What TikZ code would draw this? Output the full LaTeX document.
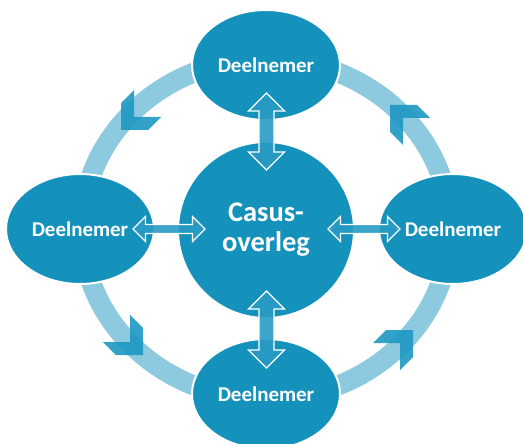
\documentclass[tikz,border=0pt]{standalone}
\usepackage{fontspec}
\setmainfont{Carlito}
\usetikzlibrary{shapes.geometric}
\definecolor{mainblue}{RGB}{21,146,188}
\definecolor{ringblue}{RGB}{141,202,223}
\definecolor{chevblue}{RGB}{30,152,194}
\definecolor{arrowblue}{RGB}{40,155,195}
\begin{document}
\begin{tikzpicture}[x=1pt,y=-1pt,
  member/.style={ellipse, fill=mainblue, draw=white, line width=2pt, minimum width=148pt, minimum height=110pt, inner sep=0pt, text=white, font=\bfseries\fontsize{21}{25}\selectfont},
  hub/.style={circle, fill=mainblue, draw=white, line width=2pt, minimum size=176pt, inner sep=0pt, text=white, align=center, font=\bfseries\fontsize{28.5}{30}\selectfont},
  ring/.style={draw=ringblue, line width=20pt},
  chevron/.style={fill=chevblue, fill opacity=0.9},
  blockarrow/.style={fill=arrowblue, fill opacity=0.9, draw=white, line width=1.2pt, line join=miter}]
\useasboundingbox (0,0) rectangle (523,444);
\coordinate (o) at (266,229);
\draw[ring] (o) ellipse [x radius=184pt, y radius=170pt];
% chevrons on the ring
\fill[chevron] (121,130) -- (148,130) -- (161,117) -- (134,117) -- (134,90) -- (121,103) -- cycle;
\fill[chevron] (390,105) -- (417,105) -- (430,118) -- (403,118) -- (403,145) -- (390,132) -- cycle;
\fill[chevron] (413,330) -- (386,330) -- (373,343) -- (400,343) -- (400,370) -- (413,357) -- cycle;
\fill[chevron] (143,355) -- (116,355) -- (103,342) -- (130,342) -- (130,315) -- (143,328) -- cycle;
% nodes
\node[member] (top) at (266,65) {Deelnemer};
\node[member] (bot) at (266,394) {Deelnemer};
\node[member] (lft) at (80,229) {Deelnemer};
\node[member] (rgt) at (453,229) {Deelnemer};
\node[hub] (hub) at (266,230) {Casus-\\overleg};
% block arrows
\draw[blockarrow] (133,229) -- (145.5,216.5) -- (145.5,224.5) -- (192.5,224.5) -- (192.5,216.5) -- (205,229) -- (192.5,241.5) -- (192.5,233.5) -- (145.5,233.5) -- (145.5,241.5) -- cycle;
\draw[blockarrow] (328,229) -- (340.5,216.5) -- (340.5,224.5) -- (387.5,224.5) -- (387.5,216.5) -- (400,229) -- (387.5,241.5) -- (387.5,233.5) -- (340.5,233.5) -- (340.5,241.5) -- cycle;
\draw[blockarrow] (266.5,93) -- (284.5,111) -- (274,111) -- (274,152) -- (284.5,152) -- (266.5,170) -- (248.5,152) -- (259,152) -- (259,111) -- (248.5,111) -- cycle;
\draw[blockarrow] (266.5,291) -- (284.5,309) -- (274,309) -- (274,350) -- (284.5,350) -- (266.5,368) -- (248.5,350) -- (259,350) -- (259,309) -- (248.5,309) -- cycle;
\end{tikzpicture}
\end{document}
